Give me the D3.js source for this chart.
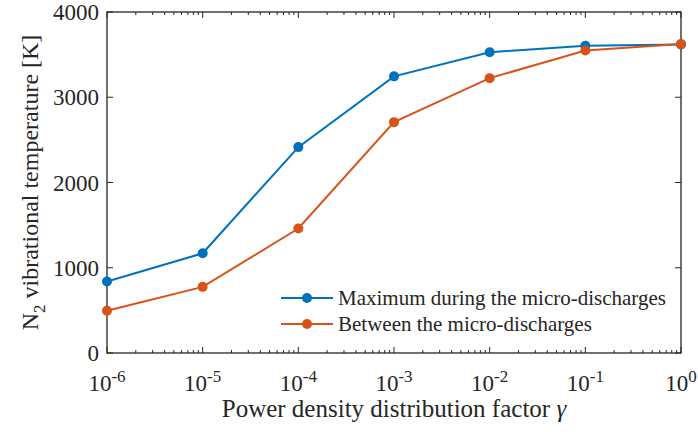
<!DOCTYPE html>
<html>
<head>
<meta charset="utf-8">
<script src="https://cdn.jsdelivr.net/npm/d3@7"></script>
<style>
  body { margin: 0; background: #fff; }
  svg { font-family: "Liberation Serif", "Times New Roman", serif; }
</style>
</head>
<body>
<div id="chart"></div>
<script>
// data
const gamma = [1e-6, 1e-5, 1e-4, 1e-3, 1e-2, 1e-1, 1];
const maxDuring = [838, 1170, 2415, 3245, 3528, 3605, 3620];
const between = [495, 776, 1460, 2708, 3224, 3548, 3625];
const seriesNames = ["Maximum during the micro-discharges", "Between the micro-discharges"];
const yTicks = [0, 1000, 2000, 3000, 4000];
const xExponents = [-6, -5, -4, -3, -2, -1, 0];

const width = 698, height = 432;
const margin = { top: 12, right: 17, bottom: 79, left: 107 };
const colors = ["#0072BD", "#D95319"];

const svg = d3.select("#chart").append("svg")
  .attr("width", width)
  .attr("height", height);

const x = d3.scaleLog().domain([1e-6, 1]).range([margin.left, width - margin.right]);
const y = d3.scaleLinear().domain([0, 4000]).range([height - margin.bottom, margin.top]);

const x0 = x.range()[0], x1 = x.range()[1];
const y0 = y.range()[0], y1 = y.range()[1];
const axisColor = "#262626";

// minor ticks for log axis
const minor = [];
for (let e = -6; e < 0; e++) {
  for (let k = 2; k <= 9; k++) minor.push(k * Math.pow(10, e));
}
const major = xExponents.map((e) => Math.pow(10, e));

const ticks = svg.append("g").attr("stroke", axisColor).attr("stroke-width", 1);
// x ticks bottom + top (inward)
major.forEach((v) => {
  ticks.append("line").attr("x1", x(v)).attr("x2", x(v)).attr("y1", y0).attr("y2", y0 - 6);
  ticks.append("line").attr("x1", x(v)).attr("x2", x(v)).attr("y1", y1).attr("y2", y1 + 6);
});
minor.forEach((v) => {
  ticks.append("line").attr("x1", x(v)).attr("x2", x(v)).attr("y1", y0).attr("y2", y0 - 3);
  ticks.append("line").attr("x1", x(v)).attr("x2", x(v)).attr("y1", y1).attr("y2", y1 + 3);
});
// y ticks left + right
yTicks.forEach((v) => {
  ticks.append("line").attr("x1", x0).attr("x2", x0 + 6).attr("y1", y(v)).attr("y2", y(v));
  ticks.append("line").attr("x1", x1).attr("x2", x1 - 6).attr("y1", y(v)).attr("y2", y(v));
});

// box
svg.append("rect")
  .attr("x", x0).attr("y", y1)
  .attr("width", x1 - x0).attr("height", y0 - y1)
  .attr("fill", "none").attr("stroke", axisColor).attr("stroke-width", 1.3);

// y tick labels
svg.append("g").selectAll("text")
  .data(yTicks).enter().append("text")
  .attr("x", x0 - 8)
  .attr("y", (d) => y(d))
  .attr("dy", "0.35em")
  .attr("text-anchor", "end")
  .attr("font-size", 23)
  .attr("fill", axisColor)
  .text((d) => d);

// x tick labels 10^e
const xl = svg.append("g").selectAll("text")
  .data(xExponents).enter().append("text")
  .attr("x", (d) => x(Math.pow(10, d)))
  .attr("y", y0 + 38)
  .attr("text-anchor", "middle")
  .attr("font-size", 23)
  .attr("fill", axisColor);
xl.append("tspan").text("10");
xl.append("tspan").attr("dy", -9).attr("font-size", 17).text((d) => d);

// axis labels
const xlab = svg.append("text")
  .attr("x", (x0 + x1) / 2)
  .attr("y", y0 + 64)
  .attr("text-anchor", "middle")
  .attr("font-size", 25)
  .attr("fill", axisColor);
xlab.append("tspan").text("Power density distribution factor ");
xlab.append("tspan").attr("font-style", "italic").text("γ");

const ylab = svg.append("text")
  .attr("transform", `translate(38, ${(y0 + y1) / 2}) rotate(-90)`)
  .attr("text-anchor", "middle")
  .attr("font-size", 24)
  .attr("fill", axisColor);
ylab.append("tspan").text("N");
ylab.append("tspan").attr("dy", 7).attr("font-size", 17).text("2");
ylab.append("tspan").attr("dy", -7).text(" vibrational temperature [K]");

// series
const line = d3.line().x((d) => x(d[0])).y((d) => y(d[1]));
[maxDuring, between].forEach((vals, i) => {
  const pts = gamma.map((g, j) => [g, vals[j]]);
  svg.append("path")
    .datum(pts)
    .attr("d", line)
    .attr("fill", "none")
    .attr("stroke", colors[i])
    .attr("stroke-width", 2);
  svg.append("g").selectAll("circle")
    .data(pts).enter().append("circle")
    .attr("cx", (d) => x(d[0]))
    .attr("cy", (d) => y(d[1]))
    .attr("r", 5)
    .attr("fill", colors[i]);
});

// legend (no box)
const legend = svg.append("g").attr("transform", "translate(281, 298)");
seriesNames.forEach((name, i) => {
  const g = legend.append("g").attr("transform", `translate(0, ${i * 26})`);
  g.append("line").attr("x1", 0).attr("x2", 52).attr("y1", 0).attr("y2", 0)
    .attr("stroke", colors[i]).attr("stroke-width", 2);
  g.append("circle").attr("cx", 26).attr("cy", 0).attr("r", 5).attr("fill", colors[i]);
  g.append("text").attr("x", 57).attr("y", 0).attr("dy", "0.35em")
    .attr("font-size", 21).attr("fill", axisColor).text(name);
});
</script>
</body>
</html>
